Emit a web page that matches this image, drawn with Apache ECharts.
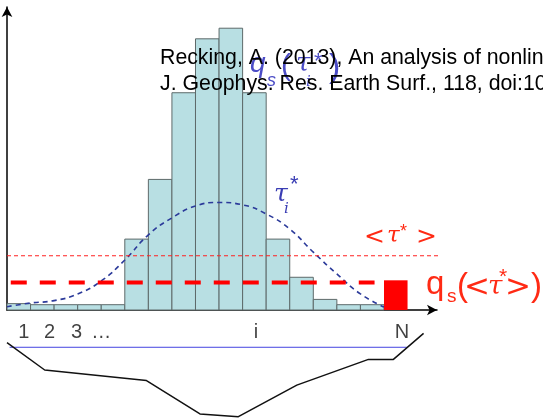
<!DOCTYPE html>
<html><head><meta charset="utf-8">
<script src="https://cdn.jsdelivr.net/npm/echarts@6/dist/echarts.min.js"></script>
<style>html,body{margin:0;padding:0;background:#fff}#chart{width:543px;height:419px}</style>
</head><body><div id="chart"></div>
<script>
// Grain-size classes 1..16: bedload per class q_s(tau_i*)
const binHeights = [2.1, 1.75, 1.75, 1.75, 1.75, 23.4, 43.1, 71.7, 89.5, 93.0, 71.7, 23.4, 10.8, 3.5, 1.75, 1.75];
// Class N: bedload computed from the mean shear stress, q_s(<tau*>)
const meanBinIndex = 16;
const meanBinHeight = 9.8;
// Local Shields stress tau_i* across the section, at each class edge
const tauCurve = [1.1, 2.3, 3.1, 5.3, 9.6, 16.5, 24.8, 30.4, 34.3, 35.5, 34.7, 31.7, 26.7, 19.1, 11.9, 5.3, 1.0];
// Mean Shields stress <tau*> and the matching bedload level
const meanTau = 17.9;
const meanTauSpan = [0, 19.4];
const qsMean = 9.1;
const qsMeanSpan = [0.16, 15.6];
// Class labels along the section
const tickLabels = ['1', '2', '3', '…', 'i', 'N'];
const tickPositions = [0.71, 1.81, 2.95, 4.0, 10.57, 16.76];
const tickLevel = -7.4;
// Water surface and bed profile of the cross-section
const waterSpan = [0.11, 16.97];
const waterLevel = -12.3;
const bedX = [0, 1.60, 5.92, 8.19, 9.82, 12.30, 15.34, 16.40, 17.68];
const bedY = [-10.8, -19.8, -23.3, -34.3, -35.2, -24.8, -16.3, -16.3, -7.7];

const chart = echarts.init(document.getElementById('chart'), null, { renderer: 'canvas' });

function barRenderer(fill, stroke, lw) {
  return function (params, api) {
    const i = api.value(0), v = api.value(1);
    const p0 = api.coord([i, v]);
    const p1 = api.coord([i + 1, 0]);
    return {
      type: 'rect',
      shape: { x: p0[0], y: p0[1], width: p1[0] - p0[0], height: p1[1] - p0[1] },
      style: { fill: fill, stroke: stroke, lineWidth: lw }
    };
  };
}

const sans = '"Liberation Sans", Arial, sans-serif';
const math = '"DejaVu Sans", sans-serif';
const serif = '"DejaVu Serif", serif';
function txt(x, baseline, str, size, family, color, style, z) {
  return {
    type: 'text', x: x, y: baseline - 0.35 * size, z: z || 10,
    style: { text: str, font: (style || '') + ' ' + size + 'px ' + family, fill: color, verticalAlign: 'middle', align: 'left' }
  };
}

const blue = '#3a3db4';
const lightBlue = '#4b4cc6';
const red = '#ff2a14';

chart.setOption({
  animation: false,
  grid: { left: 7, right: 106, top: 7, bottom: 109 },
  xAxis: {
    type: 'value', min: 0, max: 18.25,
    axisLine: { show: true, onZero: false, lineStyle: { color: '#000', width: 1.5 }, symbol: ['none', 'arrow'], symbolSize: [8, 10] },
    axisTick: { show: false }, axisLabel: { show: false }, splitLine: { show: false }
  },
  yAxis: {
    type: 'value', min: 0, max: 100,
    axisLine: { show: true, onZero: false, lineStyle: { color: '#000', width: 1.5 }, symbol: ['none', 'arrow'], symbolSize: [8, 10] },
    axisTick: { show: false }, axisLabel: { show: false }, splitLine: { show: false }
  },
  series: [
    {
      type: 'custom', z: 2,
      renderItem: barRenderer('#b8dfe3', '#5e6a6a', 1),
      encode: { x: 0, y: 1 },
      data: binHeights.map((v, i) => [i, v])
    },
    {
      type: 'custom', z: 2,
      renderItem: barRenderer('#ff0000', null, 0),
      encode: { x: 0, y: 1 },
      data: [[meanBinIndex, meanBinHeight]]
    },
    {
      type: 'line', z: 4, smooth: true, symbol: 'none', clip: false,
      lineStyle: { color: '#2b3a9a', width: 1.6, type: [5, 4] },
      data: tauCurve.map((v, i) => [i, v])
    },
    {
      type: 'line', z: 4, symbol: 'none', clip: false,
      lineStyle: { color: '#ff2020', width: 1, type: [4, 3] },
      data: meanTauSpan.map(x => [x, meanTau])
    },
    {
      type: 'line', z: 4, symbol: 'none', clip: false,
      lineStyle: { color: '#ff0000', width: 4, type: [16, 13] },
      data: qsMeanSpan.map(x => [x, qsMean])
    },
    {
      type: 'line', z: 4, symbol: 'none', clip: false,
      lineStyle: { color: '#4444e0', width: 1 },
      data: waterSpan.map(x => [x, waterLevel])
    },
    {
      type: 'line', z: 4, symbol: 'none', clip: false,
      lineStyle: { color: '#111', width: 1.5 },
      data: bedX.map((x, i) => [x, bedY[i]])
    },
    {
      type: 'scatter', z: 5, clip: false, symbolSize: 1,
      itemStyle: { color: 'transparent' },
      label: {
        show: true, position: 'inside', color: '#111', fontSize: 20, fontFamily: sans,
        formatter: p => p.name
      },
      data: tickLabels.map((t, i) => ({ name: t, value: [tickPositions[i], tickLevel] }))
    }
  ],
  graphic: [
    // q_s(tau_i*) label, partly under the reference text
    txt(250, 74, 'q', 28, sans, lightBlue, 'italic', 8),
    txt(267, 87, 's', 18, sans, lightBlue, 'italic', 8),
    txt(281, 77, '(', 30, sans, lightBlue, '', 8),
    txt(296, 73, 'τ', 26, serif, lightBlue, 'italic', 8),
    txt(306, 87, 'i', 15, serif, lightBlue, 'italic', 8),
    txt(314, 70, '*', 22, sans, lightBlue, '', 8),
    txt(329, 80, ')', 34, sans, lightBlue, '', 8),
    // reference text
    {
      type: 'text', x: 160, y: 45, z: 20,
      style: {
        text: 'Recking, A. (2013), An analysis of nonlinearity effects on bed load transport prediction,\nJ. Geophys. Res. Earth Surf., 118, doi:10.1002/jgrf.20090',
        font: '21.3px ' + sans, fill: '#000', lineHeight: 26, verticalAlign: 'top', align: 'left'
      }
    },
    // tau_i*
    txt(274, 203, 'τ', 25, serif, blue, 'italic', 10),
    txt(284, 214, 'i', 15, serif, blue, 'italic', 10),
    txt(290, 193, '*', 22, sans, blue, '', 10),
    // <tau*>
    txt(364, 246, '<', 25, math, red, '', 10),
    txt(387, 244, 'τ', 23, serif, red, 'italic', 10),
    txt(400, 238, '*', 18, sans, red, '', 10),
    txt(416, 246, '>', 25, math, red, '', 10),
    // q_s(<tau*>)
    txt(426, 296, 'q', 33, sans, red, '', 10),
    txt(447, 303, 's', 19, sans, red, '', 10),
    txt(457, 298, '(', 33, sans, red, '', 10),
    txt(464, 299, '<', 31, math, red, '', 10),
    txt(488, 296, 'τ', 26, serif, red, 'italic', 10),
    txt(499, 285, '*', 21, sans, red, '', 10),
    txt(505, 299, '>', 31, math, red, '', 10),
    txt(531, 298, ')', 33, sans, red, '', 10)
  ]
});
</script>
</body></html>
